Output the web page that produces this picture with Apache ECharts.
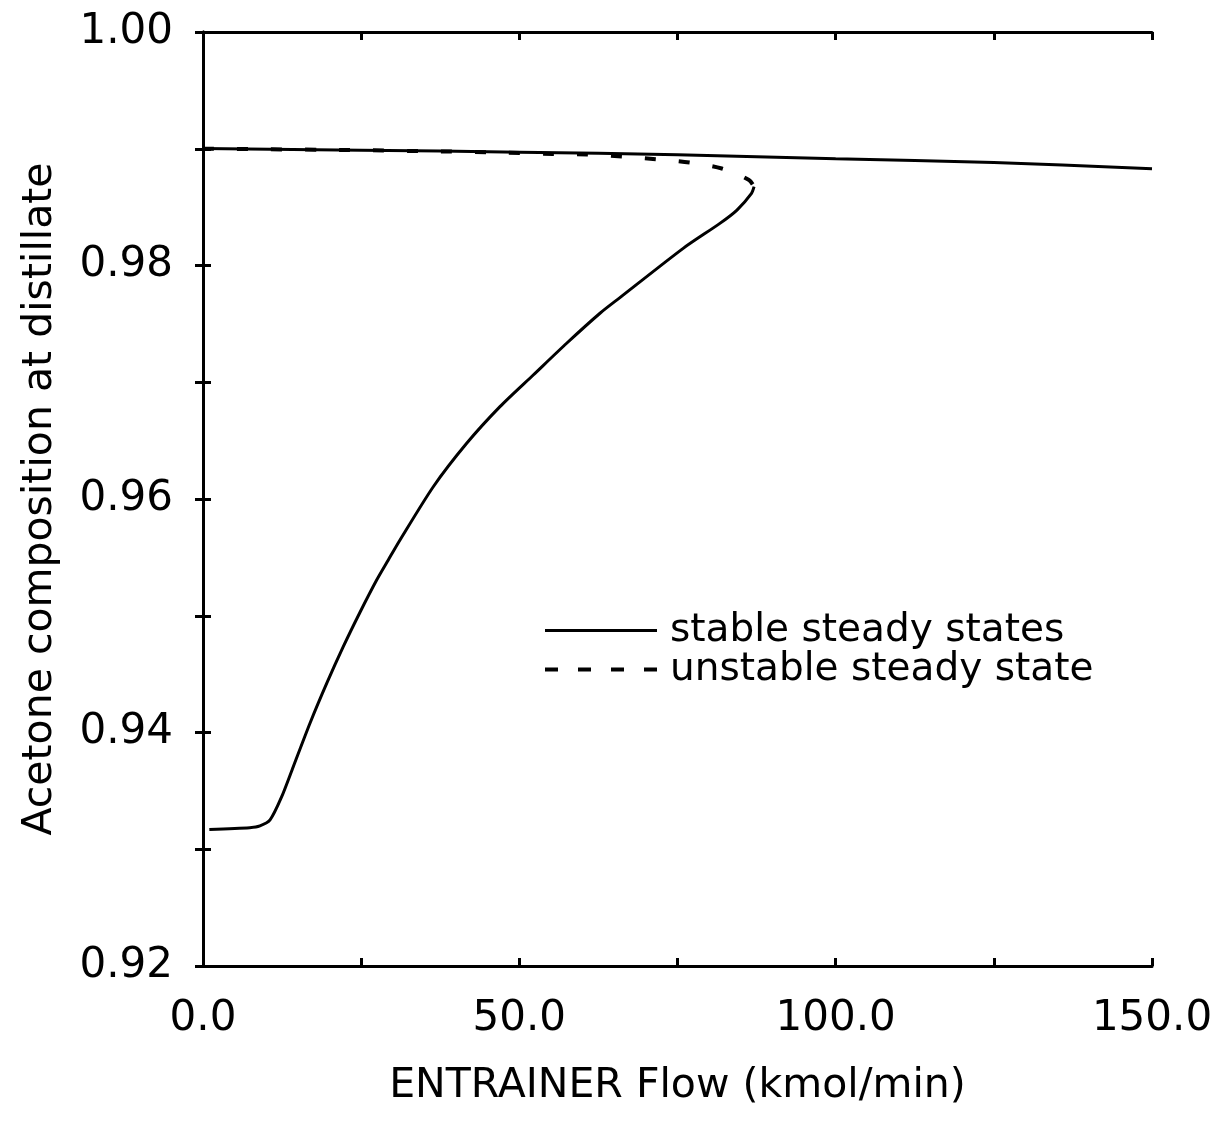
<!DOCTYPE html>
<html>
<head>
<meta charset="utf-8">
<script src="https://cdn.jsdelivr.net/npm/echarts@6/dist/echarts.min.js"></script>
<style>
  html, body { margin: 0; padding: 0; background: #ffffff; }
  #chart { width: 1216px; height: 1137px; }
</style>
</head>
<body>
<div id="chart"></div>
<script>
// ---- data ----
const upperX = [0, 25, 50, 75, 100, 125, 150];
const upperY = [0.99003, 0.98988, 0.98971, 0.98948, 0.98915, 0.98882, 0.98828];

const lowerX = [1.0, 7.4, 9.0, 10.6, 12.44, 14.27, 16.91, 19.55, 22.17, 24.82, 27.45, 29.29, 31.14, 36.40, 41.68, 46.94, 52.20, 57.48, 62.75, 65.9, 75.9, 81.7, 84.4, 86.7, 87.1];
const lowerY = [0.9317, 0.93185, 0.9320, 0.93251, 0.9345, 0.93707, 0.94079, 0.94420, 0.94735, 0.95030, 0.95306, 0.95478, 0.95649, 0.96105, 0.96477, 0.96791, 0.97062, 0.97334, 0.97591, 0.97725, 0.98147, 0.98361, 0.98475, 0.98618, 0.98675];

const unstableX = [0, 23.2, 37.5, 46.9, 55.3, 60.7, 66.2, 71.6, 77.0, 82.0, 86.3, 87.1];
const unstableY = [0.99000, 0.98989, 0.98977, 0.98968, 0.98955, 0.98951, 0.98934, 0.98910, 0.98881, 0.98831, 0.98732, 0.98675];

const xTickValues = [0, 50, 100, 150];
const xTickLabels = ['0.0', '50.0', '100.0', '150.0'];
const yTickValues = [0.92, 0.94, 0.96, 0.98, 1.00];
const yTickLabels = ['0.92', '0.94', '0.96', '0.98', '1.00'];

const seriesNames = ['stable steady states', 'unstable steady state'];
const xTitle = 'ENTRAINER Flow (kmol/min)';
const yTitle = 'Acetone composition at distillate';

// ---- helpers ----
const zip = (xs, ys) => xs.map((x, i) => [x, ys[i]]);
const FONT = 'DejaVu Sans';

function xLabel(v) {
  const i = xTickValues.findIndex(t => Math.abs(t - v) < 1e-6);
  return i >= 0 ? xTickLabels[i] : '';
}
function yLabel(v) {
  const i = yTickValues.findIndex(t => Math.abs(t - v) < 1e-6);
  return i >= 0 ? yTickLabels[i] : '';
}

const axisLine = { show: true, lineStyle: { color: '#000', width: 3 } };
const tickIn = { show: true, inside: true, length: 8, lineStyle: { color: '#000', width: 3 } };

const chart = echarts.init(document.getElementById('chart'), null, { renderer: 'canvas' });

chart.setOption({
  backgroundColor: '#ffffff',
  animation: false,
  color: ['#000000', '#000000', '#000000'],
  grid: { left: 203, right: 64, top: 32, bottom: 171, containLabel: false },
  legend: {
    orient: 'vertical',
    left: 538,
    top: 606,
    itemWidth: 112,
    itemHeight: 20,
    itemGap: 0,
    itemStyle: { opacity: 0 },
    data: [
      { name: seriesNames[0], lineStyle: { type: 'solid', width: 3, color: '#000' } },
      { name: seriesNames[1], lineStyle: { type: [13, 20], width: 4, color: '#000' } }
    ],
    textStyle: { fontFamily: FONT, fontSize: 39, color: '#000', padding: [0, 0, 0, 8] }
  },
  xAxis: [
    {
      type: 'value', min: 0, max: 150, interval: 25, position: 'bottom',
      axisLine, axisTick: tickIn, splitLine: { show: false },
      axisLabel: { formatter: xLabel, margin: 32, fontFamily: FONT, fontSize: 42, color: '#000' },
      name: xTitle, nameLocation: 'middle', nameGap: 100,
      nameTextStyle: { fontFamily: FONT, fontSize: 41, color: '#000' }
    },
    {
      type: 'value', min: 0, max: 150, interval: 25, position: 'top',
      axisLine, axisTick: tickIn, splitLine: { show: false },
      axisLabel: { show: false }
    }
  ],
  yAxis: [
    {
      type: 'value', min: 0.92, max: 1.00, interval: 0.01, position: 'left',
      axisLine, axisTick: tickIn, splitLine: { show: false },
      axisLabel: { formatter: yLabel, margin: 30, fontFamily: FONT, fontSize: 42, color: '#000' },
      name: yTitle, nameLocation: 'middle', nameGap: 142,
      nameTextStyle: { fontFamily: FONT, fontSize: 41, color: '#000' }
    },
    {
      type: 'value', min: 0.92, max: 1.00, interval: 0.01, position: 'right',
      axisLine, axisTick: tickIn, splitLine: { show: false },
      axisLabel: { show: false }
    }
  ],
  series: [
    {
      name: seriesNames[0], type: 'line', data: zip(upperX, upperY),
      symbol: 'none', smooth: 0.3, itemStyle: { color: '#000' },
      lineStyle: { color: '#000', width: 3 }, z: 3
    },
    {
      name: seriesNames[0], type: 'line', data: zip(lowerX, lowerY),
      symbol: 'none', smooth: 0.25, itemStyle: { color: '#000' },
      lineStyle: { color: '#000', width: 3 }, z: 3
    },
    {
      name: seriesNames[1], type: 'line', data: zip(unstableX, unstableY),
      symbol: 'none', smooth: 0.3, itemStyle: { color: '#000' },
      lineStyle: { color: '#000', width: 4, type: [11, 23] }, z: 2
    }
  ]
});
</script>
</body>
</html>
